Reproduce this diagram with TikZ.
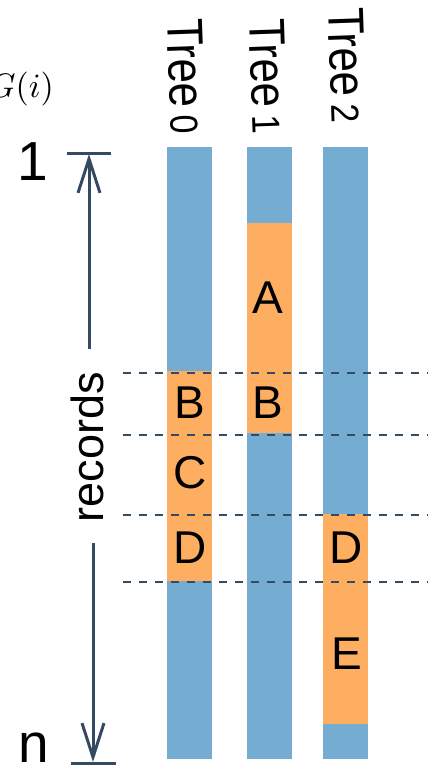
\documentclass[tikz,border=0pt]{standalone}
\usepackage{fontspec}
\setmainfont{Liberation Sans}
\usepackage{graphicx}
\usetikzlibrary{arrows.meta}
\definecolor{barblue}{RGB}{116,173,209}
\definecolor{barorange}{RGB}{253,174,97}
\definecolor{navy}{RGB}{52,73,98}
\newcommand\treetext[1]{\scalebox{1}[1.15]{\fontsize{44}{44}\selectfont Tree\kern8pt{\fontsize{34}{34}\selectfont #1}}}
\begin{document}
\begin{tikzpicture}[x=1pt,y=-1pt,
  lbl/.style={inner sep=0pt,font=\fontsize{46}{46}\selectfont},
  big/.style={inner sep=0pt,font=\fontsize{55}{55}\selectfont},
  treelbl/.style={inner sep=0pt,anchor=base west,rotate=-88},
  guide/.style={navy,line width=1.5pt,dash pattern=on 8pt off 8pt},
  axis/.style={navy,line width=3pt},
  tip/.style={-{Straight Barb[length=34pt,width=22pt]}}]
\useasboundingbox (0,0) rectangle (428,766);
% bars
\fill[barblue] (167,147) rectangle (212,759);
\fill[barorange] (167,371) rectangle (212,581);
\fill[barblue] (247,147) rectangle (292,759);
\fill[barorange] (247,223) rectangle (292,433);
\fill[barblue] (323,147) rectangle (368,759);
\fill[barorange] (323,514) rectangle (368,724);
% guide lines
\foreach \yy/\nm in {373/ga,435/gb,515/gc,582/gd}{
  \coordinate (\nm l) at (123,\yy);
  \coordinate (\nm r) at (428,\yy);
  \draw[guide] (\nm l) -- (\nm r);
}
% labels in bars
\node[lbl] (a) at (268,298) {A};
\node[lbl] (b0) at (190,403) {B};
\node[lbl] (b1) at (268,403) {B};
\node[lbl] (c0) at (190,473) {C};
\node[lbl] (d0) at (190,548) {D};
\node[lbl] (d2) at (346,548) {D};
\node[lbl] (e2) at (347,654) {E};
% tree labels
\node[treelbl] (t0) at (167,19) {\treetext{0}};
\node[treelbl] (t1) at (249,19) {\treetext{1}};
\node[treelbl] (t2) at (328,8) {\treetext{2}};
% left axis
\node[inner sep=0pt,anchor=base east] (g) at (54,97) {\scalebox{3.4}{$G(i)$}};
\node[big] (one) at (33,162) {1};
\node[big,anchor=base] (n) at (34,762) {n};
\node[inner sep=0pt,rotate=90,font=\fontsize{45}{45}\selectfont] (rec) at (87,447) {records};
\coordinate (topl) at (67,153);
\coordinate (topr) at (111,153);
\coordinate (toptip) at (89,154);
\coordinate (upend) at (89,349);
\coordinate (botl) at (71,763);
\coordinate (botr) at (116,763);
\coordinate (bottip) at (93,762);
\coordinate (downstart) at (93,543);
\draw[axis] (topl) -- (topr);
\draw[axis] (botl) -- (botr);
\draw[axis,tip] (upend) -- (toptip);
\draw[axis,tip] (downstart) -- (bottip);
\end{tikzpicture}
\end{document}
